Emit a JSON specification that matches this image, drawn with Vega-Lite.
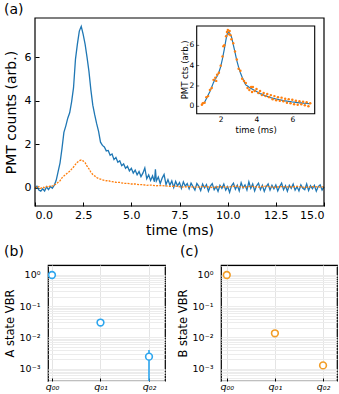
{
"$schema": "https://vega.github.io/schema/vega-lite/v6.json",
"padding": {"left": 3, "top": 3, "right": 0, "bottom": 0},
"background": "white",
"config": {"font": "DejaVu Sans", "view": {"stroke": "black", "strokeWidth": 1.2}, "axis": {"domain": false, "labelColor": "black", "titleColor": "black", "tickColor": "black", "titleFontWeight": "normal"}},
"datasets": {
"blue": [
{"t":0.0,"v":-0.05},{"t":0.1,"v":0.08},{"t":0.2,"v":-0.1},{"t":0.3,"v":-0.15},{"t":0.4,"v":-0.04},{"t":0.5,"v":-0.14},{"t":0.6,"v":0.05},{"t":0.7,"v":-0.08},{"t":0.8,"v":0.06},{"t":0.9,"v":-0.02},
{"t":1.0,"v":0.12},{"t":1.1,"v":0.35},{"t":1.2,"v":0.75},{"t":1.3,"v":1.15},{"t":1.4,"v":1.8},{"t":1.5,"v":2.55},{"t":1.6,"v":2.85},{"t":1.7,"v":3.2},{"t":1.8,"v":3.45},{"t":1.9,"v":3.95},
{"t":2.0,"v":4.6},{"t":2.1,"v":5.9},{"t":2.2,"v":6.6},{"t":2.3,"v":7.2},{"t":2.4,"v":7.42},{"t":2.5,"v":7.05},{"t":2.6,"v":6.6},{"t":2.7,"v":6.0},{"t":2.8,"v":5.35},{"t":2.9,"v":4.5},
{"t":3.0,"v":3.8},{"t":3.1,"v":3.35},{"t":3.2,"v":2.95},{"t":3.3,"v":2.6},{"t":3.4,"v":2.1},{"t":3.5,"v":1.95},{"t":3.6,"v":1.88},{"t":3.7,"v":1.7},{"t":3.8,"v":1.72},{"t":3.9,"v":1.5},
{"t":4.0,"v":1.56},{"t":4.1,"v":1.3},{"t":4.2,"v":1.4},{"t":4.3,"v":1.18},{"t":4.4,"v":1.25},{"t":4.5,"v":1.02},{"t":4.6,"v":1.1},{"t":4.7,"v":0.9},{"t":4.8,"v":1.0},{"t":4.9,"v":0.78},
{"t":5.0,"v":0.9},{"t":5.1,"v":0.68},{"t":5.2,"v":0.82},{"t":5.3,"v":0.6},{"t":5.4,"v":0.75},{"t":5.5,"v":0.52},{"t":5.6,"v":0.68},{"t":5.7,"v":0.92},{"t":5.8,"v":0.42},{"t":5.9,"v":0.6},
{"t":6.0,"v":0.34},{"t":6.1,"v":0.55},{"t":6.2,"v":0.28},{"t":6.25,"v":0.85},{"t":6.3,"v":0.32},{"t":6.4,"v":0.5},{"t":6.5,"v":0.2},{"t":6.6,"v":0.45},{"t":6.7,"v":0.62},{"t":6.8,"v":0.15},{"t":6.9,"v":0.38},
{"t":7.0,"v":0.12},{"t":7.1,"v":0.32},{"t":7.2,"v":0.02},{"t":7.3,"v":0.3},{"t":7.4,"v":0.1},{"t":7.5,"v":0.25},{"t":7.6,"v":-0.02},{"t":7.7,"v":0.28},{"t":7.8,"v":0.08},{"t":7.9,"v":0.2},
{"t":8.0,"v":-0.04},{"t":8.1,"v":0.22},{"t":8.2,"v":0.06},{"t":8.3,"v":-0.1},{"t":8.4,"v":0.2},{"t":8.5,"v":0.08},{"t":8.6,"v":-0.12},{"t":8.7,"v":0.18},{"t":8.8,"v":0.0},{"t":8.9,"v":0.15},
{"t":9.0,"v":-0.15},{"t":9.1,"v":0.08},{"t":9.2,"v":0.2},{"t":9.3,"v":-0.08},{"t":9.4,"v":0.06},{"t":9.5,"v":-0.16},{"t":9.6,"v":0.12},{"t":9.7,"v":-0.02},{"t":9.8,"v":0.18},{"t":9.9,"v":-0.1},
{"t":10.0,"v":0.06},{"t":10.1,"v":-0.2},{"t":10.2,"v":0.1},{"t":10.3,"v":0.22},{"t":10.4,"v":-0.06},{"t":10.5,"v":0.12},{"t":10.6,"v":-0.14},{"t":10.7,"v":0.24},{"t":10.8,"v":0.0},{"t":10.9,"v":0.14},
{"t":11.0,"v":-0.1},{"t":11.1,"v":0.28},{"t":11.2,"v":-0.02},{"t":11.3,"v":0.18},{"t":11.4,"v":-0.14},{"t":11.5,"v":0.1},{"t":11.6,"v":0.22},{"t":11.7,"v":-0.08},{"t":11.8,"v":0.12},{"t":11.9,"v":-0.16},
{"t":12.0,"v":0.06},{"t":12.1,"v":0.18},{"t":12.2,"v":-0.1},{"t":12.3,"v":0.12},{"t":12.4,"v":-0.04},{"t":12.5,"v":0.14},{"t":12.6,"v":-0.14},{"t":12.7,"v":0.06},{"t":12.8,"v":0.22},{"t":12.9,"v":-0.08},
{"t":13.0,"v":0.1},{"t":13.1,"v":-0.15},{"t":13.2,"v":0.12},{"t":13.3,"v":-0.02},{"t":13.4,"v":0.18},{"t":13.5,"v":-0.1},{"t":13.6,"v":0.06},{"t":13.7,"v":-0.14},{"t":13.8,"v":0.14},{"t":13.9,"v":-0.02},
{"t":14.0,"v":-0.08},{"t":14.1,"v":0.18},{"t":14.2,"v":-0.12},{"t":14.3,"v":0.1},{"t":14.4,"v":-0.04},{"t":14.5,"v":0.12},{"t":14.6,"v":-0.15},{"t":14.7,"v":0.06},{"t":14.8,"v":0.14},{"t":14.9,"v":-0.1},{"t":15.0,"v":0.05}
],
"orange": [
{"t":0.0,"v":0.04},{"t":0.1,"v":0.0},{"t":0.2,"v":0.06},{"t":0.3,"v":-0.02},{"t":0.4,"v":0.04},{"t":0.5,"v":0.01},{"t":0.6,"v":0.07},{"t":0.7,"v":0.04},{"t":0.8,"v":0.1},{"t":0.9,"v":0.08},
{"t":1.0,"v":0.14},{"t":1.1,"v":0.18},{"t":1.2,"v":0.26},{"t":1.3,"v":0.33},{"t":1.4,"v":0.46},{"t":1.5,"v":0.55},{"t":1.6,"v":0.62},{"t":1.7,"v":0.7},{"t":1.8,"v":0.76},{"t":1.9,"v":0.86},
{"t":2.0,"v":0.96},{"t":2.1,"v":1.08},{"t":2.2,"v":1.18},{"t":2.3,"v":1.25},{"t":2.4,"v":1.28},{"t":2.5,"v":1.24},{"t":2.6,"v":1.16},{"t":2.7,"v":1.0},{"t":2.8,"v":0.88},{"t":2.9,"v":0.72},
{"t":3.0,"v":0.62},{"t":3.1,"v":0.55},{"t":3.2,"v":0.48},{"t":3.3,"v":0.43},{"t":3.4,"v":0.4},{"t":3.5,"v":0.37},{"t":3.6,"v":0.35},{"t":3.7,"v":0.33},{"t":3.8,"v":0.34},{"t":3.9,"v":0.3},
{"t":4.0,"v":0.29},{"t":4.2,"v":0.26},{"t":4.4,"v":0.25},{"t":4.6,"v":0.21},{"t":4.8,"v":0.21},{"t":5.0,"v":0.18},{"t":5.2,"v":0.18},{"t":5.4,"v":0.15},{"t":5.6,"v":0.15},{"t":5.8,"v":0.12},
{"t":6.0,"v":0.13},{"t":6.3,"v":0.1},{"t":6.6,"v":0.11},{"t":7.0,"v":0.07},{"t":7.3,"v":0.08},{"t":7.6,"v":0.04},{"t":8.0,"v":0.06},{"t":8.4,"v":0.03},{"t":8.8,"v":0.07},{"t":9.2,"v":0.02},
{"t":9.6,"v":0.06},{"t":10.0,"v":0.04},{"t":10.4,"v":0.08},{"t":10.8,"v":0.03},{"t":11.2,"v":0.07},{"t":11.6,"v":0.04},{"t":12.0,"v":0.08},{"t":12.4,"v":0.03},{"t":12.8,"v":0.06},{"t":13.2,"v":0.04},
{"t":13.6,"v":0.07},{"t":14.0,"v":0.02},{"t":14.4,"v":0.06},{"t":14.8,"v":0.04},{"t":15.0,"v":0.05}
],
"iblue": [
{"t":1.0,"v":0.25},{"t":1.1,"v":0.4},{"t":1.2,"v":0.75},{"t":1.3,"v":1.1},{"t":1.4,"v":1.45},{"t":1.5,"v":1.9},{"t":1.6,"v":2.35},{"t":1.7,"v":2.7},{"t":1.8,"v":2.95},{"t":1.9,"v":3.35},
{"t":2.0,"v":3.9},{"t":2.1,"v":4.7},{"t":2.2,"v":5.6},{"t":2.3,"v":6.6},{"t":2.4,"v":7.35},{"t":2.5,"v":7.2},{"t":2.6,"v":6.85},{"t":2.7,"v":6.1},{"t":2.8,"v":5.3},{"t":2.9,"v":4.5},
{"t":3.0,"v":3.85},{"t":3.1,"v":3.3},{"t":3.2,"v":2.85},{"t":3.3,"v":2.45},{"t":3.4,"v":2.1},{"t":3.5,"v":2.0},{"t":3.6,"v":1.85},{"t":3.7,"v":1.75},{"t":3.8,"v":1.65},{"t":3.9,"v":1.55},
{"t":4.0,"v":1.45},{"t":4.1,"v":1.35},{"t":4.2,"v":1.25},{"t":4.3,"v":1.2},{"t":4.4,"v":1.1},{"t":4.5,"v":1.05},{"t":4.6,"v":0.98},{"t":4.7,"v":0.92},{"t":4.8,"v":0.85},{"t":4.9,"v":0.8},
{"t":5.0,"v":0.76},{"t":5.1,"v":0.72},{"t":5.2,"v":0.68},{"t":5.3,"v":0.64},{"t":5.4,"v":0.6},{"t":5.5,"v":0.56},{"t":5.6,"v":0.53},{"t":5.7,"v":0.5},{"t":5.8,"v":0.47},{"t":5.9,"v":0.45},
{"t":6.0,"v":0.42},{"t":6.1,"v":0.4},{"t":6.2,"v":0.38},{"t":6.3,"v":0.36},{"t":6.4,"v":0.34},{"t":6.5,"v":0.33},{"t":6.6,"v":0.3},{"t":6.7,"v":0.3},{"t":6.8,"v":0.28},{"t":6.9,"v":0.27},{"t":7.0,"v":0.25}
],
"iorange": [
{"t":0.95,"v":0.15},{"t":1.0,"v":0.3},{"t":1.1,"v":0.35},{"t":1.2,"v":0.9},{"t":1.3,"v":1.0},{"t":1.4,"v":1.6},{"t":1.5,"v":1.8},{"t":1.6,"v":2.6},{"t":1.7,"v":2.8},{"t":1.75,"v":2.5},
{"t":1.8,"v":3.1},{"t":1.9,"v":3.3},{"t":2.0,"v":4.0},{"t":2.1,"v":4.9},{"t":2.15,"v":5.9},{"t":2.2,"v":6.0},{"t":2.3,"v":6.9},{"t":2.35,"v":7.3},{"t":2.4,"v":7.5},{"t":2.45,"v":7.1},
{"t":2.5,"v":7.4},{"t":2.55,"v":7.0},{"t":2.6,"v":6.6},{"t":2.7,"v":6.2},{"t":2.8,"v":5.4},{"t":2.9,"v":4.6},{"t":3.0,"v":3.7},{"t":3.1,"v":3.5},{"t":3.2,"v":2.7},{"t":3.3,"v":2.5},
{"t":3.4,"v":2.3},{"t":3.5,"v":1.8},{"t":3.6,"v":1.6},{"t":3.7,"v":1.9},{"t":3.75,"v":1.4},{"t":3.8,"v":1.9},{"t":3.9,"v":1.5},{"t":4.0,"v":1.7},{"t":4.1,"v":1.3},{"t":4.2,"v":1.5},
{"t":4.3,"v":1.1},{"t":4.4,"v":1.3},{"t":4.5,"v":1.0},{"t":4.6,"v":1.2},{"t":4.7,"v":0.9},{"t":4.8,"v":1.1},{"t":4.9,"v":0.7},{"t":5.0,"v":1.0},{"t":5.1,"v":0.6},{"t":5.2,"v":0.9},
{"t":5.3,"v":0.55},{"t":5.4,"v":0.85},{"t":5.5,"v":0.5},{"t":5.6,"v":0.75},{"t":5.7,"v":0.35},{"t":5.8,"v":0.7},{"t":5.9,"v":0.3},{"t":6.0,"v":0.65},{"t":6.1,"v":0.2},{"t":6.2,"v":0.55},
{"t":6.3,"v":0.15},{"t":6.4,"v":0.5},{"t":6.5,"v":0.2},{"t":6.6,"v":0.45},{"t":6.7,"v":0.1},{"t":6.8,"v":0.4},{"t":6.9,"v":0.0},{"t":7.0,"v":0.3}
],
"iticks": [{"v":0},{"v":2},{"v":4},{"v":6}],
"ititle": [{"lab":"PMT cts (arb.)"}],
"vbrA": [
{"q":0,"vbr":1.0},{"q":1,"vbr":0.0298},{"q":2,"vbr":0.0024,"lo":0.0002,"hi":0.0039}
],
"vbrB": [
{"q":0,"vbr":1.0},{"q":1,"vbr":0.0135},{"q":2,"vbr":0.00126}
]
},
"concat": [
{
"title": {"text": "(a)", "anchor": "start", "frame": "bounds", "fontSize": 14, "fontWeight": "normal", "offset": 0},
"width": 276, "height": 188,
"view": {"stroke": null},
"layer": [
{
"layer": [
{"data": {"name": "blue"}, "mark": {"type": "line", "color": "#1f77b4", "strokeWidth": 1.3},
 "encoding": {
  "x": {"field": "t", "type": "quantitative", "title": "time (ms)", "scale": {"domain": [0, 15], "range": [-13, 276], "nice": false, "zero": false},
        "axis": {"orient": "bottom", "values": [0, 2.5, 5, 7.5, 10, 12.5, 15], "format": ".1f", "labelFontSize": 11, "titleFontSize": 14, "tickSize": -4, "labelPadding": 7.5, "titlePadding": 3, "grid": false}},
  "y": {"field": "v", "type": "quantitative", "title": "PMT counts (arb.)", "scale": {"domain": [-0.83, 7.8], "nice": false, "zero": false},
        "axis": {"orient": "left", "offset": 13, "values": [0, 2, 4, 6], "labelFontSize": 11, "titleFontSize": 14, "tickSize": -4, "labelPadding": 8, "titlePadding": 6, "grid": false}}
 }},
{"data": {"name": "orange"}, "mark": {"type": "line", "color": "#ff7f0e", "strokeWidth": 1.3, "strokeDash": [2, 1.2]},
 "encoding": {"x": {"field": "t", "type": "quantitative", "title": "time (ms)"}, "y": {"field": "v", "type": "quantitative", "title": "PMT counts (arb.)"}}},
{"data": {"values": [{"k": 1}]}, "mark": {"type": "rect", "fill": null, "fillOpacity": 0, "stroke": "black", "strokeWidth": 1.2},
 "encoding": {"x": {"datum": 0, "type": "quantitative"}, "x2": {"datum": 15}, "y": {"datum": -0.83, "type": "quantitative"}, "y2": {"datum": 7.8}}}
]
},
{
"layer": [
{"data": {"values": [{"k": 1}]}, "mark": {"type": "rect", "fill": "white", "stroke": "black", "strokeWidth": 1.1},
 "encoding": {
  "x": {"datum": 0.66, "type": "quantitative", "title": "time (ms)", "scale": {"domain": [0.66, 7.25], "range": [148.7, 266.7], "nice": false, "zero": false},
        "axis": {"orient": "bottom", "offset": -92.5, "values": [2, 4, 6], "labelFontSize": 7.5, "titleFontSize": 8.5, "tickSize": -2.5, "labelPadding": 4.5, "titlePadding": 2, "grid": false}},
  "x2": {"datum": 7.25},
  "y": {"datum": -0.73, "type": "quantitative", "scale": {"domain": [-0.73, 7.9], "range": [95.7, 8], "nice": false, "zero": false}, "axis": null},
  "y2": {"datum": 7.9}
 }},
{"data": {"name": "iticks"}, "mark": {"type": "text", "align": "right", "baseline": "middle", "dx": -2.5, "fontSize": 7.5, "color": "black"},
 "encoding": {"x": {"datum": 0.66, "type": "quantitative"}, "y": {"field": "v", "type": "quantitative"}, "text": {"field": "v", "type": "quantitative"}}},
{"data": {"name": "iticks"}, "mark": {"type": "tick", "orient": "horizontal", "size": 2.5, "thickness": 0.8, "color": "black", "xOffset": 1.25},
 "encoding": {"x": {"datum": 0.66, "type": "quantitative"}, "y": {"field": "v", "type": "quantitative"}}},
{"data": {"name": "ititle"}, "mark": {"type": "text", "align": "center", "baseline": "middle", "angle": 270, "fontSize": 8.5, "color": "black"},
 "encoding": {"x": {"datum": 0.0, "type": "quantitative"}, "y": {"datum": 3.585, "type": "quantitative"}, "text": {"field": "lab"}}},
{"data": {"name": "iblue"}, "mark": {"type": "line", "color": "#1f77b4", "strokeWidth": 1.2},
 "encoding": {"x": {"field": "t", "type": "quantitative", "title": "time (ms)"}, "y": {"field": "v", "type": "quantitative"}}},
{"data": {"name": "iorange"}, "mark": {"type": "circle", "color": "#ff7f0e", "size": 6, "opacity": 1},
 "encoding": {"x": {"field": "t", "type": "quantitative", "title": "time (ms)"}, "y": {"field": "v", "type": "quantitative"}}}
]
}
],
"resolve": {"scale": {"x": "independent", "y": "independent"}, "axis": {"x": "independent", "y": "independent"}}
},
{
"hconcat": [
{
"title": {"text": "(b)", "anchor": "start", "frame": "bounds", "fontSize": 14, "fontWeight": "normal", "offset": 2},
"width": 117, "height": 116,
"data": {"name": "vbrA"},
"encoding": {
 "x": {"field": "q", "type": "quantitative", "title": null, "scale": {"domain": [-0.082, 2.33], "nice": false, "zero": false},
       "axis": {"values": [0, 1, 2], "labelExpr": "datum.value==0?'q₀₀':datum.value==1?'q₀₁':'q₀₂'", "labelFontStyle": "italic", "labelFontSize": 9.5, "grid": true, "gridColor": "#e4e4e4", "tickSize": -3, "labelPadding": 3}}
},
"layer": [
{"mark": {"type": "rule", "color": "#2ea6ee", "strokeWidth": 1.6, "clip": true},
 "encoding": {
  "y": {"field": "lo", "type": "quantitative", "title": "A state VBR", "scale": {"type": "log", "domain": [0.000398, 2.09], "nice": false},
        "axis": {"values": [0.0004,0.0005,0.0006,0.0007,0.0008,0.0009,0.001,0.002,0.003,0.004,0.005,0.006,0.007,0.008,0.009,0.01,0.02,0.03,0.04,0.05,0.06,0.07,0.08,0.09,0.1,0.2,0.3,0.4,0.5,0.6,0.7,0.8,0.9,1,2],
                 "labelExpr": "datum.value==1?'10⁰':datum.value==0.1?'10⁻¹':datum.value==0.01?'10⁻²':datum.value==0.001?'10⁻³':''",
                 "labelOverlap": false, "labelBound": false, "labelFontSize": 9.5, "titleFontSize": 11.5, "ticks": false, "labelPadding": 8, "titlePadding": 4, "grid": true, "gridColor": "#ececec"}},
  "y2": {"field": "hi"}
 }},
{"mark": {"type": "point", "shape": "circle", "filled": true, "fill": "white", "stroke": "#2ea6ee", "strokeWidth": 1.6, "size": 45, "opacity": 1},
 "encoding": {"y": {"field": "vbr", "type": "quantitative", "title": "A state VBR"}}}
]
},
{
"title": {"text": "(c)", "anchor": "start", "frame": "bounds", "fontSize": 14, "fontWeight": "normal", "offset": 2, "dx": 3},
"width": 116, "height": 116,
"data": {"name": "vbrB"},
"encoding": {
 "x": {"field": "q", "type": "quantitative", "title": null, "scale": {"domain": [-0.12, 2.29], "nice": false, "zero": false},
       "axis": {"values": [0, 1, 2], "labelExpr": "datum.value==0?'q₀₀':datum.value==1?'q₀₁':'q₀₂'", "labelFontStyle": "italic", "labelFontSize": 9.5, "grid": true, "gridColor": "#e4e4e4", "tickSize": -3, "labelPadding": 3}}
},
"layer": [
{"mark": {"type": "point", "shape": "circle", "filled": true, "fill": "white", "stroke": "#f29d27", "strokeWidth": 1.6, "size": 45, "opacity": 1},
 "encoding": {"y": {"field": "vbr", "type": "quantitative", "title": "B state VBR", "scale": {"type": "log", "domain": [0.000398, 2.09], "nice": false},
        "axis": {"values": [0.0004,0.0005,0.0006,0.0007,0.0008,0.0009,0.001,0.002,0.003,0.004,0.005,0.006,0.007,0.008,0.009,0.01,0.02,0.03,0.04,0.05,0.06,0.07,0.08,0.09,0.1,0.2,0.3,0.4,0.5,0.6,0.7,0.8,0.9,1,2],
                 "labelExpr": "datum.value==1?'10⁰':datum.value==0.1?'10⁻¹':datum.value==0.01?'10⁻²':datum.value==0.001?'10⁻³':''",
                 "labelOverlap": false, "labelBound": false, "labelFontSize": 9.5, "titleFontSize": 11.5, "ticks": false, "labelPadding": 8, "titlePadding": 4, "grid": true, "gridColor": "#ececec"}}}}
]
}
],
"spacing": 10
}
],
"columns": 1,
"align": "none",
"spacing": 5
}
